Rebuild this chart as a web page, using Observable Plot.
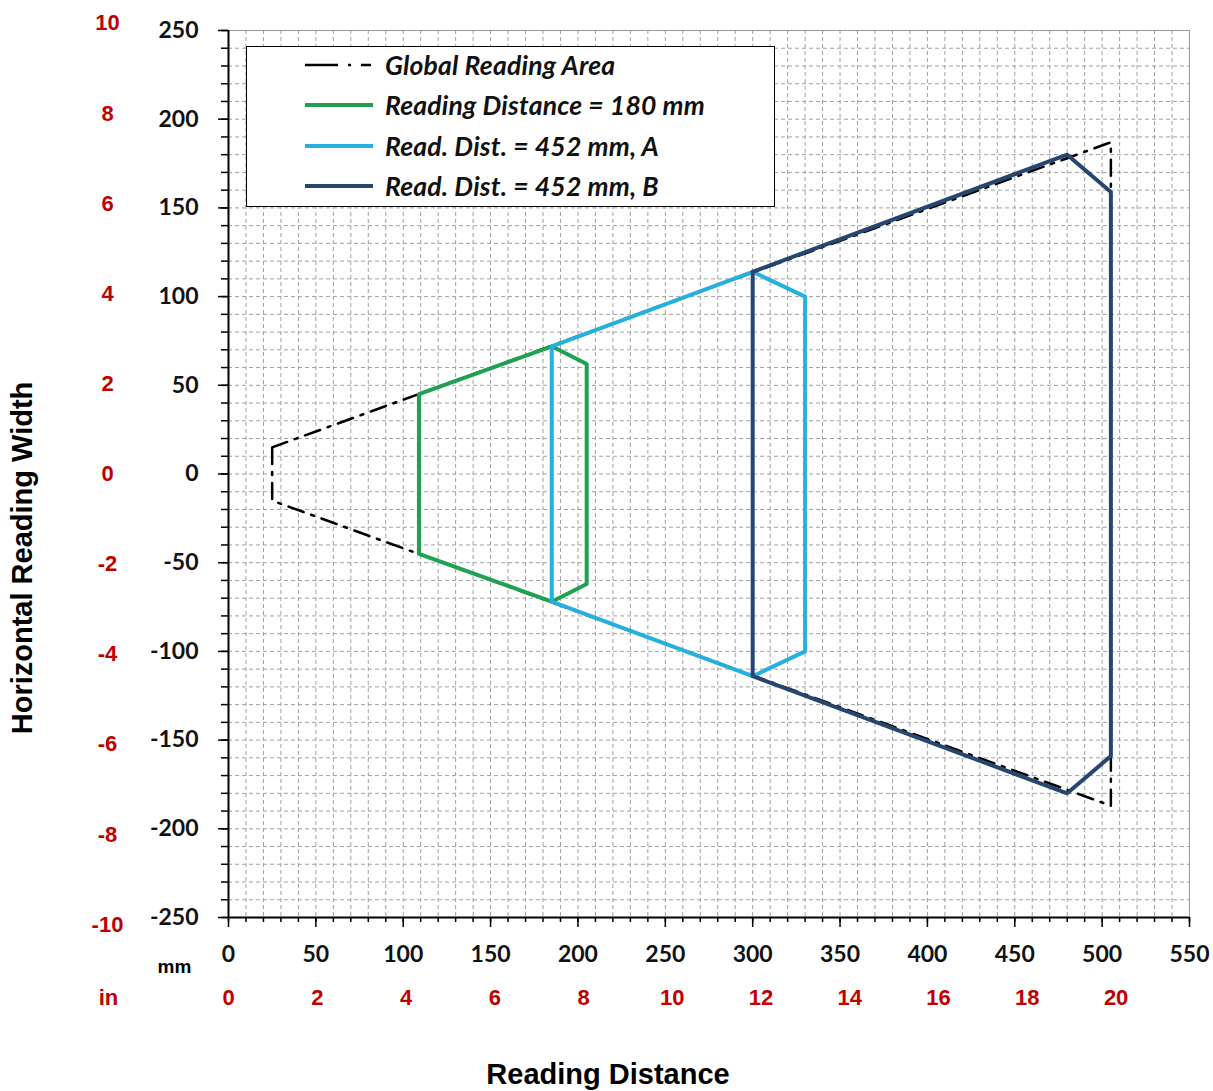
<!DOCTYPE html>
<html>
<head>
<meta charset="utf-8">
<script src="https://cdn.jsdelivr.net/npm/d3@7"></script>
<script src="https://cdn.jsdelivr.net/npm/@observablehq/plot@0.6"></script>
<style>
  html, body { margin: 0; padding: 0; background: #fff; }
  #wrap { position: relative; width: 1213px; height: 1091px; }
  #legend {
    position: absolute; left: 246px; top: 46px; width: 527px; height: 159px;
    border: 1.5px solid #000; background: #fff; box-sizing: content-box;
    font-family: Lato, "Open Sans", sans-serif; font-style: italic; font-weight: 700;
    font-size: 26.5px; color: #111;
  }
  .row { position: absolute; left: 0; height: 30px; display: flex; align-items: center; }
  .row svg { margin-left: 58px; width: 68px; height: 10px; }
  .row span { margin-left: 12px; white-space: nowrap; letter-spacing: 0.2px; }
</style>
</head>
<body>
<div id="wrap"></div>
<script>
// ---- data (mm) ----
const globalX = [25, 505, 505, 25, 25];
const globalY = [15, 187, -187, -15, 15];

const greenX = [109, 185, 205, 205, 185, 109, 109];
const greenY = [45, 72, 62, -62, -72, -45, 45];

const lightX = [185, 300, 330, 330, 300, 185, 185];
const lightY = [72, 114, 100, -100, -114, -72, 72];

const darkX = [300, 480, 505, 505, 480, 300, 300];
const darkY = [114, 180, 159, -159, -180, -114, 114];

const xTicksMM = [0, 50, 100, 150, 200, 250, 300, 350, 400, 450, 500, 550];
const yTicksMM = [-250, -200, -150, -100, -50, 0, 50, 100, 150, 200, 250];
const xTicksIn = [0, 2, 4, 6, 8, 10, 12, 14, 16, 18, 20];
const yTicksIn = [-10, -8, -6, -4, -2, 0, 2, 4, 6, 8, 10];

const seriesNames = ["Global Reading Area", "Reading Distance = 180 mm", "Read. Dist. = 452 mm, A", "Read. Dist. = 452 mm, B"];
const seriesColors = ["#000000", "#1fa152", "#25b0df", "#27466f"];

const pts = (xs, ys) => xs.map((x, i) => ({x, y: ys[i]}));
const minorX = d3.range(0, 551, 10);
const minorY = d3.range(-250, 251, 10);

const tickFont = {fontFamily: "Lato, 'Liberation Sans', sans-serif", fontWeight: 700, fontSize: 23, fill: "#111"};
const redFont = {fontFamily: "'Liberation Sans', Arial, sans-serif", fontWeight: 700, fontSize: 22, fill: "#c00000"};
const titleFont = {fontFamily: "'Liberation Sans', Arial, sans-serif", fontWeight: 700, fontSize: 29, fill: "#000"};

const chart = Plot.plot({
  width: 1213,
  height: 1091,
  marginLeft: 228,
  marginRight: 24,
  marginTop: 30,
  marginBottom: 174,
  x: {domain: [0, 550], label: null},
  y: {domain: [-250, 250], label: null},
  style: {background: "#fff"},
  marks: [
    Plot.gridX(minorX, {stroke: "#a0a0a0", strokeOpacity: 1, strokeDasharray: "4,3"}),
    Plot.gridY(minorY, {stroke: "#a0a0a0", strokeOpacity: 1, strokeDasharray: "4,3"}),
    Plot.frame({stroke: "#9a9a9a"}),
    // minor ticks
    Plot.axisX(minorX, {tickSize: 5, tickFormat: () => "", stroke: "#000", strokeWidth: 1.5, label: null}),
    Plot.axisY(minorY, {tickSize: 7, tickFormat: () => "", stroke: "#000", strokeWidth: 1.5, label: null}),
    // major ticks + labels
    Plot.axisX(xTicksMM, {tickSize: 10, tickPadding: 18, tickFormat: d => String(d), stroke: "#000", strokeWidth: 1.5, ...tickFont, label: null}),
    Plot.axisY(yTicksMM, {tickSize: 10, tickPadding: 20, tickFormat: d => String(d), stroke: "#000", strokeWidth: 1.5, ...tickFont, label: null}),
    Plot.ruleX([0], {stroke: "#000", strokeWidth: 2}),
    Plot.ruleY([-250], {stroke: "#000", strokeWidth: 2}),
    // inch labels
    Plot.text(yTicksIn, {y: d => d * 25.4, text: d => String(d), frameAnchor: "left", dx: -121, textAnchor: "middle", ...redFont}),
    Plot.text(xTicksIn, {x: d => d * 25.4, text: d => String(d), frameAnchor: "bottom", dy: 87, ...redFont}),
    Plot.text(["in"], {frameAnchor: "bottom-left", dx: -120, dy: 87, textAnchor: "middle", ...redFont}),
    Plot.text(["mm"], {frameAnchor: "bottom-left", dx: -54, dy: 55, textAnchor: "middle", fontFamily: "'Liberation Sans', Arial, sans-serif", fontWeight: 700, fontSize: 19, fill: "#000"}),
    // titles
    Plot.text(["Reading Distance"], {frameAnchor: "bottom", dx: -101, dy: 166, ...titleFont}),
    Plot.text(["Horizontal Reading Width"], {frameAnchor: "left", dx: -206, dy: 84, rotate: -90, textAnchor: "middle", ...titleFont}),
    // series
    Plot.line(pts(globalX, globalY), {x: "x", y: "y", stroke: seriesColors[0], strokeWidth: 2.5, strokeDasharray: "16,8,3,8"}),
    Plot.line(pts(greenX, greenY), {x: "x", y: "y", stroke: seriesColors[1], strokeWidth: 4, strokeLinejoin: "round"}),
    Plot.line(pts(lightX, lightY), {x: "x", y: "y", stroke: seriesColors[2], strokeWidth: 4, strokeLinejoin: "round"}),
    Plot.line(pts(darkX, darkY), {x: "x", y: "y", stroke: seriesColors[3], strokeWidth: 4, strokeLinejoin: "round"})
  ]
});

const wrap = document.getElementById("wrap");
wrap.appendChild(chart);

// legend overlay
const legend = document.createElement("div");
legend.id = "legend";
const rowTops = [3, 43, 84, 124];
seriesNames.forEach((name, i) => {
  const row = document.createElement("div");
  row.className = "row";
  row.style.top = rowTops[i] + "px";
  const dash = i === 0 ? 'stroke-dasharray="33,10,3,10,10"' : "";
  const sw = i === 0 ? 2.5 : 4;
  row.innerHTML = `<svg viewBox="0 0 68 10"><line x1="0" y1="5" x2="68" y2="5" stroke="${seriesColors[i]}" stroke-width="${sw}" ${dash}/></svg><span>${name}</span>`;
  legend.appendChild(row);
});
wrap.appendChild(legend);
</script>
</body>
</html>
